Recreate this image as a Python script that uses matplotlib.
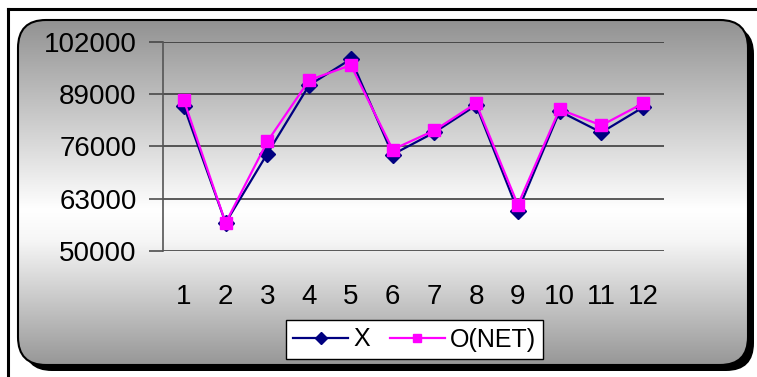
import numpy as np
import matplotlib
matplotlib.use("Agg")
import matplotlib.pyplot as plt
from matplotlib.patches import FancyBboxPatch
from matplotlib.lines import Line2D
from matplotlib.colors import LinearSegmentedColormap

plt.rcParams['font.family'] = ['Liberation Sans', 'DejaVu Sans']

months = [1, 2, 3, 4, 5, 6, 7, 8, 9, 10, 11, 12]
x_vals = [86000, 57000, 74250, 91250, 97750, 74000, 79500, 86250, 60000, 84750, 79500, 85750]
o_net_vals = [87500, 57000, 77250, 92500, 96250, 75250, 80000, 86750, 61500, 85250, 81250, 86750]
y_ticks = [50000, 63000, 76000, 89000, 102000]

W, H = 757, 377
fig = plt.figure(figsize=(W / 100, H / 100), dpi=100)
fig.patch.set_facecolor('white')

# background overlay axes in pixel units
bg = fig.add_axes([0, 0, 1, 1], zorder=0)
bg.set_xlim(0, W)
bg.set_ylim(H, 0)
bg.axis('off')

# outer frame
bg.add_line(Line2D([7.5, 7.5], [8.5, H + 5], color='black', lw=2.2))
bg.add_line(Line2D([7.5, W + 5], [8.5, 8.5], color='black', lw=2.2))

# shadow
bx0, by0, bx1, by1 = 18, 20, 748, 365
r = 28
shadow = FancyBboxPatch((bx0 + 6, by0 + 6), (bx1 - bx0), (by1 - by0),
                        boxstyle=f"round,pad=0,rounding_size={r}",
                        facecolor='black', edgecolor='black', lw=0)
bg.add_patch(shadow)
box = FancyBboxPatch((bx0, by0), (bx1 - bx0), (by1 - by0),
                     boxstyle=f"round,pad=0,rounding_size={r}",
                     facecolor='none', edgecolor='black', lw=1.5, zorder=3)
bg.add_patch(box)

cmap = LinearSegmentedColormap.from_list(
    'g', [(0.0, '#929292'), (0.55, '#ffffff'), (0.64, '#f6f6f6'), (1.0, '#979797')])
grad = np.linspace(0, 1, 256).reshape(-1, 1)
im = bg.imshow(grad, cmap=cmap, extent=(bx0, bx1, by1, by0), aspect='auto',
               interpolation='bilinear', zorder=2)
clip = FancyBboxPatch((bx0, by0), (bx1 - bx0), (by1 - by0),
                      boxstyle=f"round,pad=0,rounding_size={r}",
                      transform=bg.transData, facecolor='none', edgecolor='none')
im.set_clip_path(clip)
bg.set_xlim(0, W)
bg.set_ylim(H, 0)

# main axes
ax = fig.add_axes([163 / W, 1 - 251 / H, (664 - 163) / W, (251 - 42) / H], zorder=1)
ax.set_facecolor('none')
ax.set_xlim(0.5, 12.5)
ax.set_ylim(50000, 102000)
ax.set_yticks(y_ticks)
ax.set_yticklabels([str(v) for v in y_ticks])
ax.set_xticks(months)
ax.set_xticklabels([str(m) for m in months])
for s in ['top', 'right', 'bottom']:
    ax.spines[s].set_visible(False)
ax.spines['left'].set_color('#555555')
ax.spines['left'].set_linewidth(1.2)
ax.yaxis.grid(True, color='#303030', lw=1.1)
ax.set_axisbelow(True)
ax.tick_params(axis='y', length=10, width=1.1, color='#404040', pad=9, labelsize=20)
ax.tick_params(axis='x', length=0, pad=24, labelsize=20)

ax.plot(months, x_vals, color='#000080', lw=1.6, marker='D', markersize=8,
        markerfacecolor='#000080', markeredgecolor='#000080', label='X', zorder=3)
ax.plot(months, o_net_vals, color='#FF00FF', lw=1.6, marker='s', markersize=8,
        markerfacecolor='#FF00FF', markeredgecolor='#FF00FF', label='O(NET)', zorder=4)

leg = ax.legend(loc='center', bbox_to_anchor=((289 + 540) / 2 / W, 1 - (318 + 361) / 2 / H),
                bbox_transform=fig.transFigure, ncol=2, fontsize=18, frameon=True,
                fancybox=False, framealpha=1, edgecolor='black', handlelength=2.2,
                handletextpad=0.2, columnspacing=0.8, borderpad=0.3, markerscale=0.75,
                borderaxespad=0)
leg.get_frame().set_linewidth(1.0)

fig.savefig('out.png', dpi=100, facecolor='white')
